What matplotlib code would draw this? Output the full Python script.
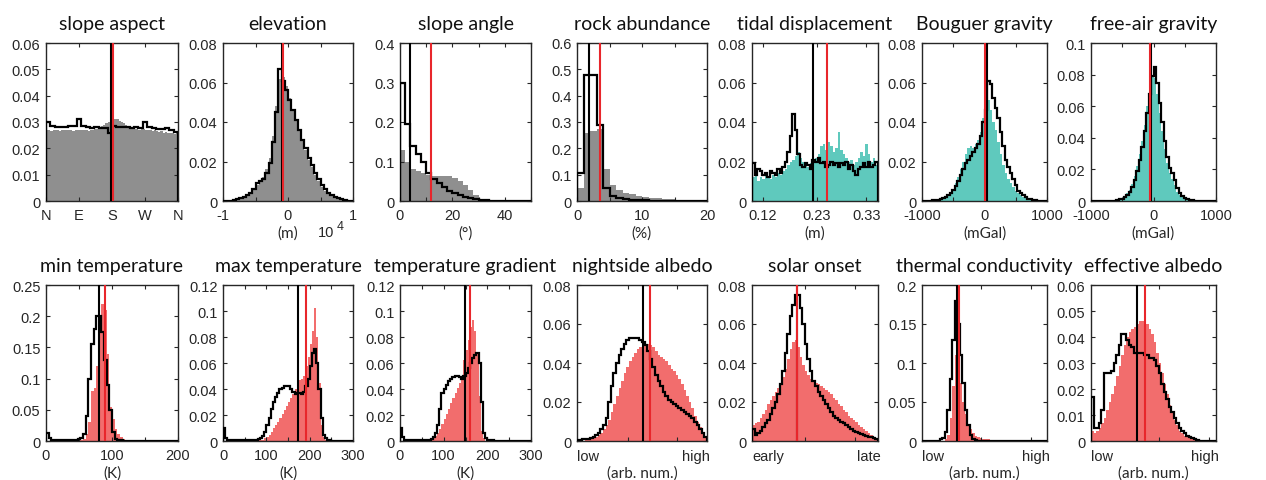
import numpy as np
import matplotlib
matplotlib.use("Agg")
import matplotlib.pyplot as plt

# ---- data ----
GRAY = "#8f8f8f"
TEAL = "#5fc9bd"
REDF = "#f26d6d"
REDL = "#e8262b"

# slope aspect (deg)
aspect_fill_edges = np.linspace(0, 360, 61)
aspect_fill = [0.027, 0.0268, 0.0265, 0.0268, 0.027, 0.0268, 0.0267, 0.027, 0.0268, 0.027,
               0.0268, 0.027, 0.0266, 0.0268, 0.027, 0.0268, 0.0269, 0.027, 0.0268, 0.0267,
               0.027, 0.0268, 0.0272, 0.0275, 0.028, 0.0285, 0.029, 0.0295, 0.030, 0.031,
               0.0315, 0.0312, 0.031, 0.0305, 0.030, 0.0295, 0.029, 0.0285, 0.028, 0.0278,
               0.0275, 0.0272, 0.027, 0.0275, 0.0272, 0.027, 0.0268, 0.027, 0.0265, 0.0268,
               0.0265, 0.0262, 0.0265, 0.026, 0.0262, 0.026, 0.0258, 0.026, 0.0255, 0.0258]
aspect_step_edges = np.linspace(0, 360, 31)
aspect_step = [0.0299, 0.0285, 0.028, 0.0282, 0.028, 0.0283, 0.0285, 0.031, 0.0285, 0.028,
               0.0278, 0.028, 0.0278, 0.0278, 0.0258, 0.0285, 0.028, 0.028, 0.028, 0.0278,
               0.028, 0.0278, 0.030, 0.028, 0.0278, 0.0275, 0.0275, 0.0278, 0.027, 0.0262]

# elevation (x 1e4 m)
elev_edges = np.linspace(-1, 1, 41)
elev_fill = [0, 0, 0.0002, 0.0004, 0.0008, 0.0012, 0.002, 0.003, 0.004, 0.006,
             0.008, 0.010, 0.012, 0.016, 0.022, 0.033, 0.048, 0.062, 0.063, 0.058,
             0.052, 0.046, 0.041, 0.036, 0.031, 0.026, 0.021, 0.017, 0.013, 0.010,
             0.007, 0.005, 0.0035, 0.0025, 0.0018, 0.0012, 0.0008, 0.0004, 0.0002, 0]
elev_step = [0, 0, 0.0002, 0.0005, 0.001, 0.0015, 0.002, 0.003, 0.004, 0.006,
             0.009, 0.010, 0.011, 0.014, 0.019, 0.030, 0.045, 0.067, 0.061, 0.056,
             0.051, 0.046, 0.041, 0.036, 0.031, 0.027, 0.022, 0.018, 0.014, 0.011,
             0.008, 0.006, 0.004, 0.003, 0.002, 0.0015, 0.001, 0.0005, 0.0002, 0]

# slope angle (deg)
angle_edges = np.linspace(0, 50, 26)
angle_fill = [0.13, 0.098, 0.08, 0.075, 0.07, 0.066, 0.063, 0.064, 0.064, 0.063,
              0.058, 0.05, 0.04, 0.028, 0.016, 0.006, 0.002, 0.0005, 0, 0,
              0, 0, 0, 0, 0]
angle_step = [0.30, 0.195, 0.14, 0.12, 0.10, 0.07, 0.055, 0.045, 0.035, 0.026,
              0.02, 0.014, 0.01, 0.007, 0.004, 0.003, 0.002, 0.001, 0.0005, 0.0003,
              0, 0, 0, 0, 0]

# rock abundance (%)
rock_fill_edges = np.linspace(0, 20, 21)
rock_fill = [0.05, 0.26, 0.265, 0.275, 0.12, 0.06, 0.04, 0.03, 0.025, 0.02,
             0.016, 0.013, 0.01, 0.008, 0.006, 0.005, 0.004, 0.003, 0.002, 0.001]
rock_step_edges = [0, 1, 3, 4, 5, 6, 7, 8, 9, 10, 11, 12, 13, 14, 15, 16, 17, 18, 19, 20]
rock_step = [0.105, 0.477, 0.29, 0.05, 0.02, 0.01, 0.006, 0.004, 0.003, 0.002,
             0.0015, 0.001, 0.001, 0.0005, 0.0005, 0.0003, 0.0002, 0.0001, 0]

# tidal displacement (m)
tidal_edges = np.linspace(0.0975, 0.354, 51)
tidal_fill = [0.012, 0.014, 0.010, 0.012, 0.011, 0.013, 0.012, 0.011, 0.013, 0.012,
              0.014, 0.013, 0.015, 0.016, 0.018, 0.020, 0.021, 0.023, 0.025, 0.022,
              0.020, 0.018, 0.017, 0.019, 0.020, 0.022, 0.024, 0.028, 0.029, 0.026,
              0.030, 0.028, 0.025, 0.027, 0.035, 0.026, 0.024, 0.022, 0.020, 0.021,
              0.018, 0.020, 0.022, 0.025, 0.023, 0.029, 0.024, 0.020, 0.022, 0.018]
tidal_step = [0.019, 0.013, 0.016, 0.015, 0.013, 0.014, 0.012, 0.015, 0.014, 0.013,
              0.016, 0.014, 0.017, 0.020, 0.025, 0.033, 0.044, 0.036, 0.024, 0.018,
              0.017, 0.019, 0.018, 0.016, 0.021, 0.020, 0.022, 0.019, 0.020, 0.017,
              0.018, 0.020, 0.018, 0.019, 0.017, 0.019, 0.018, 0.020, 0.016, 0.018,
              0.015, 0.013, 0.016, 0.017, 0.019, 0.017, 0.020, 0.017, 0.018, 0.020]

# Bouguer gravity (mGal)
boug_edges = np.linspace(-1000, 1000, 51)
boug_fill = [0, 0, 0, 0.0002, 0.0003, 0.0005, 0.0008, 0.001, 0.0015, 0.002,
             0.003, 0.0045, 0.006, 0.009, 0.012, 0.016, 0.020, 0.024, 0.027, 0.028,
             0.027, 0.029, 0.031, 0.035, 0.042, 0.050, 0.051, 0.046, 0.040, 0.036,
             0.030, 0.024, 0.018, 0.014, 0.011, 0.009, 0.007, 0.005, 0.004, 0.003,
             0.002, 0.0015, 0.001, 0.0007, 0.0004, 0.0002, 0.0001, 0, 0, 0]
boug_step = [0, 0, 0, 0.0002, 0.0003, 0.0005, 0.0007, 0.001, 0.0013, 0.002,
             0.0028, 0.004, 0.0055, 0.0075, 0.010, 0.013, 0.016, 0.019, 0.021, 0.023,
             0.025, 0.027, 0.029, 0.033, 0.040, 0.046, 0.061, 0.059, 0.052, 0.047,
             0.042, 0.035, 0.028, 0.021, 0.017, 0.014, 0.011, 0.008, 0.005, 0.004,
             0.003, 0.002, 0.0012, 0.0008, 0.0005, 0.0003, 0.0002, 0.0001, 0, 0]

# free-air gravity (mGal)
fair_edges = np.linspace(-1000, 1000, 51)
fair_fill = [0, 0, 0, 0, 0, 0, 0, 0.0001, 0.0002, 0.0004,
             0.0006, 0.0012, 0.002, 0.003, 0.005, 0.007, 0.011, 0.016, 0.022, 0.030,
             0.038, 0.048, 0.060, 0.071, 0.080, 0.078, 0.068, 0.056, 0.044, 0.033,
             0.024, 0.018, 0.014, 0.010, 0.006, 0.004, 0.0025, 0.0015, 0.001, 0.0005,
             0.0003, 0.0002, 0.0001, 0, 0, 0, 0, 0, 0, 0]
fair_step = [0, 0, 0, 0, 0, 0, 0, 0.0001, 0.0002, 0.0003,
             0.0005, 0.001, 0.0015, 0.0025, 0.004, 0.006, 0.009, 0.013, 0.019, 0.026,
             0.034, 0.044, 0.056, 0.068, 0.079, 0.085, 0.075, 0.062, 0.050, 0.038,
             0.028, 0.021, 0.018, 0.013, 0.008, 0.005, 0.003, 0.002, 0.001, 0.0006,
             0.0004, 0.0002, 0.0001, 0, 0, 0, 0, 0, 0, 0]

# min temperature (K)
tmin_edges = np.linspace(0, 200, 51)
tmin_fill = [0, 0, 0, 0, 0, 0, 0, 0, 0, 0,
             0, 0, 0, 0.001, 0.004, 0.012, 0.030, 0.080, 0.085, 0.120,
             0.200, 0.220, 0.210, 0.140, 0.055, 0.035, 0.020, 0.012, 0.007, 0.004,
             0.002, 0.001, 0, 0, 0, 0, 0, 0, 0, 0,
             0, 0, 0, 0, 0, 0, 0, 0, 0, 0]
tmin_step = [0.013, 0.005, 0.002, 0.0015, 0.001, 0.001, 0.001, 0.001, 0.001, 0.001,
             0.0015, 0.002, 0.003, 0.005, 0.012, 0.040, 0.100, 0.155, 0.180, 0.200,
             0.200, 0.175, 0.130, 0.090, 0.050, 0.015, 0.004, 0.002, 0.001, 0.0005,
             0, 0, 0, 0, 0, 0, 0, 0, 0, 0,
             0, 0, 0, 0, 0, 0, 0, 0, 0, 0]

# max temperature (K)
tmax_edges = np.linspace(0, 300, 61)
tmax_fill = [0, 0, 0, 0, 0, 0, 0, 0, 0, 0,
             0, 0, 0, 0, 0, 0, 0.0005, 0.001, 0.001, 0.002,
             0.003, 0.005, 0.007, 0.010, 0.012, 0.015, 0.018, 0.021, 0.024, 0.027,
             0.030, 0.033, 0.036, 0.040, 0.045, 0.047, 0.048, 0.050, 0.058, 0.065,
             0.075, 0.085, 0.102, 0.080, 0.045, 0.012, 0.003, 0.001, 0, 0,
             0, 0, 0, 0, 0, 0, 0, 0, 0, 0]
tmax_step = [0.010, 0.002, 0.001, 0.001, 0.001, 0.0008, 0.0008, 0.0008, 0.0008, 0.0008,
             0.0008, 0.0008, 0.0008, 0.001, 0.001, 0.001, 0.0015, 0.002, 0.004, 0.007,
             0.012, 0.018, 0.025, 0.030, 0.034, 0.037, 0.040, 0.041, 0.042, 0.042,
             0.042, 0.040, 0.038, 0.036, 0.037, 0.037, 0.036, 0.038, 0.042, 0.048,
             0.058, 0.068, 0.071, 0.060, 0.040, 0.018, 0.005, 0.002, 0.001, 0.0005,
             0, 0, 0, 0, 0, 0, 0, 0, 0, 0]

# temperature gradient (K)
tgrad_edges = np.linspace(0, 300, 61)
tgrad_fill = [0, 0, 0, 0, 0, 0, 0, 0, 0, 0,
              0, 0, 0, 0, 0.001, 0.002, 0.004, 0.006, 0.009, 0.013,
              0.017, 0.021, 0.025, 0.029, 0.033, 0.037, 0.041, 0.045, 0.050, 0.062,
              0.070, 0.078, 0.088, 0.093, 0.085, 0.068, 0.035, 0.008, 0.002, 0,
              0, 0, 0, 0, 0, 0, 0, 0, 0, 0,
              0, 0, 0, 0, 0, 0, 0, 0, 0, 0]
tgrad_step = [0.010, 0.003, 0.001, 0.001, 0.001, 0.001, 0.001, 0.001, 0.001, 0.001,
              0.001, 0.001, 0.001, 0.001, 0.0015, 0.003, 0.006, 0.012, 0.025, 0.037,
              0.040, 0.043, 0.046, 0.048, 0.049, 0.050, 0.050, 0.049, 0.048, 0.050,
              0.052, 0.056, 0.060, 0.064, 0.066, 0.068, 0.060, 0.030, 0.006, 0.002,
              0.001, 0.0005, 0.0005, 0.0003, 0, 0, 0, 0, 0, 0,
              0, 0, 0, 0, 0, 0, 0, 0, 0, 0]

# nightside albedo (arb.)
night_edges = np.linspace(0, 1, 51)
night_fill = [0, 0, 0.0002, 0.0004, 0.0006, 0.001, 0.0015, 0.002, 0.003, 0.004,
              0.006, 0.008, 0.011, 0.015, 0.019, 0.023, 0.027, 0.031, 0.035, 0.038,
              0.041, 0.043, 0.045, 0.047, 0.048, 0.049, 0.050, 0.050, 0.049, 0.048,
              0.046, 0.044, 0.043, 0.042, 0.041, 0.039, 0.037, 0.036, 0.034, 0.032,
              0.029, 0.026, 0.023, 0.020, 0.017, 0.013, 0.010, 0.007, 0.004, 0.002]
night_step = [0.0005, 0.0006, 0.0008, 0.001, 0.0012, 0.0015, 0.002, 0.003, 0.004, 0.006,
              0.008, 0.012, 0.020, 0.028, 0.035, 0.040, 0.044, 0.047, 0.050, 0.052,
              0.053, 0.053, 0.053, 0.053, 0.052, 0.051, 0.049, 0.046, 0.042, 0.038,
              0.034, 0.031, 0.028, 0.025, 0.023, 0.021, 0.020, 0.019, 0.018, 0.017,
              0.016, 0.015, 0.014, 0.013, 0.012, 0.010, 0.008, 0.006, 0.004, 0.002]

# solar onset (arb.)
solar_edges = np.linspace(0, 1, 51)
solar_fill = [0.008, 0.009, 0.010, 0.012, 0.014, 0.016, 0.019, 0.021, 0.023, 0.025,
              0.027, 0.030, 0.033, 0.037, 0.042, 0.047, 0.051, 0.052, 0.048, 0.043,
              0.039, 0.036, 0.034, 0.032, 0.031, 0.030, 0.029, 0.028, 0.027, 0.026,
              0.025, 0.024, 0.022, 0.021, 0.019, 0.018, 0.016, 0.015, 0.013, 0.012,
              0.011, 0.010, 0.008, 0.007, 0.006, 0.005, 0.004, 0.003, 0.002, 0.001]
solar_step = [0.006, 0.003, 0.004, 0.005, 0.007, 0.009, 0.011, 0.014, 0.017, 0.020,
              0.024, 0.029, 0.036, 0.045, 0.055, 0.064, 0.070, 0.075, 0.075, 0.068,
              0.060, 0.050, 0.042, 0.036, 0.031, 0.028, 0.025, 0.023, 0.021, 0.019,
              0.017, 0.015, 0.013, 0.012, 0.011, 0.010, 0.009, 0.008, 0.007, 0.006,
              0.005, 0.0045, 0.004, 0.0035, 0.003, 0.0025, 0.002, 0.002, 0.0015, 0.001]

# thermal conductivity (arb.)
therm_edges = np.linspace(0, 1, 51)
therm_fill = [0, 0, 0, 0, 0, 0, 0, 0, 0, 0.002,
              0.008, 0.030, 0.070, 0.110, 0.110, 0.075, 0.050, 0.035, 0.022, 0.015,
              0.010, 0.007, 0.005, 0.004, 0.003, 0.0025, 0.002, 0.0015, 0.0012, 0.001,
              0.0008, 0.0006, 0.0005, 0.0003, 0.0002, 0, 0, 0, 0, 0,
              0, 0, 0, 0, 0, 0, 0, 0, 0, 0]
therm_step = [0, 0, 0, 0, 0, 0, 0.0005, 0.002, 0.004, 0.012,
              0.040, 0.080, 0.130, 0.180, 0.150, 0.110, 0.075, 0.040, 0.020, 0.008,
              0.003, 0.001, 0, 0, 0, 0, 0, 0, 0, 0,
              0, 0, 0, 0, 0, 0, 0, 0, 0, 0,
              0, 0, 0, 0, 0, 0, 0, 0, 0, 0]

# effective albedo (arb.)
eff_edges = np.linspace(0, 1, 51)
eff_fill = [0.004, 0.003, 0.004, 0.005, 0.007, 0.009, 0.012, 0.015, 0.018, 0.021,
            0.025, 0.029, 0.033, 0.037, 0.040, 0.042, 0.043, 0.044, 0.045, 0.046,
            0.046, 0.046, 0.045, 0.043, 0.041, 0.038, 0.034, 0.030, 0.026, 0.022,
            0.018, 0.014, 0.011, 0.008, 0.006, 0.004, 0.003, 0.002, 0.0015, 0.001,
            0.0008, 0.0005, 0.0003, 0.0002, 0.0001, 0, 0, 0, 0, 0]
eff_step = [0.017, 0.005, 0.005, 0.007, 0.012, 0.026, 0.026, 0.026, 0.027, 0.030,
            0.033, 0.037, 0.041, 0.041, 0.039, 0.037, 0.036, 0.034, 0.034, 0.034,
            0.034, 0.033, 0.033, 0.032, 0.032, 0.031, 0.029, 0.026, 0.022, 0.019,
            0.016, 0.013, 0.011, 0.009, 0.007, 0.005, 0.004, 0.003, 0.002, 0.0015,
            0.001, 0.0006, 0.0003, 0, 0, 0, 0, 0, 0, 0]

# medians (black = one set, red = other)
med_black = [178, -0.09, 4.0, 1.9, 0.221, 45, -35,
             81, 173, 149, 0.504, 0.36, 0.276, 0.365]
med_red = [182, -0.08, 11.8, 3.6, 0.2495, 12, -50,
           89, 191, 160, 0.56, 0.357, 0.297, 0.43]

titles = ["slope aspect", "elevation", "slope angle", "rock abundance",
          "tidal displacement", "Bouguer gravity", "free-air gravity",
          "min temperature", "max temperature", "temperature gradient",
          "nightside albedo", "solar onset", "thermal conductivity", "effective albedo"]

panels = [
    dict(fe=aspect_fill_edges, f=aspect_fill, se=aspect_step_edges, s=aspect_step, c=GRAY,
         xlim=(0, 360), ylim=0.06, yt=[0, .01, .02, .03, .04, .05, .06],
         xt=[0, 90, 180, 270, 360], xtl=["N", "E", "S", "W", "N"], xl=None),
    dict(fe=elev_edges, f=elev_fill, se=elev_edges, s=elev_step, c=GRAY,
         xlim=(-1, 1), ylim=0.08, yt=[0, .02, .04, .06, .08],
         xt=[-1, -0.5, 0, 0.5, 1], xtl=["-1", "", "0", "", "1"], xl="(m)"),
    dict(fe=angle_edges, f=angle_fill, se=angle_edges, s=angle_step, c=GRAY,
         xlim=(0, 50), ylim=0.4, yt=[0, .1, .2, .3, .4],
         xt=[0, 10, 20, 30, 40, 50], xtl=["0", "", "20", "", "40", ""], xl="(°)"),
    dict(fe=rock_fill_edges, f=rock_fill, se=rock_step_edges, s=rock_step, c=GRAY,
         xlim=(0, 20), ylim=0.6, yt=[0, .1, .2, .3, .4, .5, .6],
         xt=[0, 5, 10, 15, 20], xtl=["0", "", "10", "", "20"], xl="(%)"),
    dict(fe=tidal_edges, f=tidal_fill, se=tidal_edges, s=tidal_step, c=TEAL,
         xlim=(0.0975, 0.354), ylim=0.08, yt=[0, .02, .04, .06, .08],
         xt=[0.12, 0.23, 0.33], xtl=["0.12", "0.23", "0.33"], xl="(m)"),
    dict(fe=boug_edges, f=boug_fill, se=boug_edges, s=boug_step, c=TEAL,
         xlim=(-1000, 1000), ylim=0.08, yt=[0, .02, .04, .06, .08],
         xt=[-1000, -500, 0, 500, 1000], xtl=["-1000", "", "0", "", "1000"], xl="(mGal)"),
    dict(fe=fair_edges, f=fair_fill, se=fair_edges, s=fair_step, c=TEAL,
         xlim=(-1000, 1000), ylim=0.1, yt=[0, .02, .04, .06, .08, .1],
         xt=[-1000, -500, 0, 500, 1000], xtl=["-1000", "", "0", "", "1000"], xl="(mGal)"),
    dict(fe=tmin_edges, f=tmin_fill, se=tmin_edges, s=tmin_step, c=REDF,
         xlim=(0, 200), ylim=0.25, yt=[0, .05, .1, .15, .2, .25],
         xt=[0, 50, 100, 150, 200], xtl=["0", "", "100", "", "200"], xl="(K)"),
    dict(fe=tmax_edges, f=tmax_fill, se=tmax_edges, s=tmax_step, c=REDF,
         xlim=(0, 300), ylim=0.12, yt=[0, .02, .04, .06, .08, .1, .12],
         xt=[0, 50, 100, 150, 200, 250, 300], xtl=["0", "", "100", "", "200", "", "300"], xl="(K)"),
    dict(fe=tgrad_edges, f=tgrad_fill, se=tgrad_edges, s=tgrad_step, c=REDF,
         xlim=(0, 300), ylim=0.12, yt=[0, .02, .04, .06, .08, .1, .12],
         xt=[0, 50, 100, 150, 200, 250, 300], xtl=["0", "", "100", "", "200", "", "300"], xl="(K)"),
    dict(fe=night_edges, f=night_fill, se=night_edges, s=night_step, c=REDF,
         xlim=(0, 1), ylim=0.08, yt=[0, .02, .04, .06, .08],
         xt=[0.39, 0.77], xtl=None, ends=("low", "high"), xl="(arb. num.)"),
    dict(fe=solar_edges, f=solar_fill, se=solar_edges, s=solar_step, c=REDF,
         xlim=(0, 1), ylim=0.08, yt=[0, .02, .04, .06, .08],
         xt=[0.42, 0.82], xtl=None, ends=("early", "late"), xl=None),
    dict(fe=therm_edges, f=therm_fill, se=therm_edges, s=therm_step, c=REDF,
         xlim=(0, 1), ylim=0.2, yt=[0, .05, .1, .15, .2],
         xt=[0.47, 0.87], xtl=None, ends=("low", "high"), xl="(arb. num.)"),
    dict(fe=eff_edges, f=eff_fill, se=eff_edges, s=eff_step, c=REDF,
         xlim=(0, 1), ylim=0.06, yt=[0, .01, .02, .03, .04, .05, .06],
         xt=[0.54, 0.94], xtl=None, ends=("low", "high"), xl="(arb. num.)"),
]

# ---- layout in pixels ----
W, H = 1266, 481
lefts = [46, 223, 400, 577, 752, 922, 1091]
widths = [132, 130, 131, 130, 126, 125, 125]
row_top = [44, 286]
row_h = [158, 156]

TICKFONT = "Liberation Sans"
TEXTFONT = "Lato"
INK = "#262626"
TICKSIZE = 10.5

fig = plt.figure(figsize=(W / 100, H / 100), dpi=100)

for k, p in enumerate(panels):
    r, c = divmod(k, 7)
    ax = fig.add_axes([lefts[c] / W, 1 - (row_top[r] + row_h[r]) / H, widths[c] / W, row_h[r] / H])

    fe = np.asarray(p["fe"], float)
    ax.bar(fe[:-1], p["f"], width=np.diff(fe), align="edge", color=p["c"],
           edgecolor="none", linewidth=0, zorder=1)
    ax.stairs(p["s"], p["se"], baseline=0, color="black", linewidth=1.6, zorder=3)
    ax.axvline(med_black[k], color="black", linewidth=1.5, zorder=4)
    ax.axvline(med_red[k], color=REDL, linewidth=1.5, zorder=5)

    ax.set_xlim(*p["xlim"])
    ax.set_ylim(0, p["ylim"])
    ax.set_yticks(p["yt"])
    ax.set_yticklabels(["%g" % v for v in p["yt"]])
    ax.set_xticks(p["xt"])
    if p["xtl"] is not None:
        ax.set_xticklabels(p["xtl"])
    else:
        ax.set_xticklabels([])
        lo, hi = p["ends"]
        ax.text(0.0, -0.095, lo, transform=ax.transAxes, ha="left", va="center",
                fontsize=TICKSIZE, family=TICKFONT, color=INK)
        ax.text(1.02, -0.095, hi, transform=ax.transAxes, ha="right", va="center",
                fontsize=TICKSIZE, family=TICKFONT, color=INK)

    ax.tick_params(direction="in", top=True, right=True, length=3, width=0.8,
                   colors=INK, labelsize=TICKSIZE, pad=4)
    ax.tick_params(axis="x", pad=5)
    for lab in ax.get_xticklabels() + ax.get_yticklabels():
        lab.set_family(TICKFONT)
    for sp in ax.spines.values():
        sp.set_color(INK)
        sp.set_linewidth(1.0)

    ax.set_title(titles[k], fontsize=14, family=TEXTFONT, color="#111111", pad=10)
    if p["xl"]:
        ax.text(0.5, -0.2, p["xl"], transform=ax.transAxes, ha="center", va="center",
                fontsize=11, family=TEXTFONT, color=INK)

# exponent note under elevation axis
fig.text(318 / W, 1 - 233 / H, "10", fontsize=TICKSIZE, family=TICKFONT, color=INK, va="center")
fig.text(337 / W, 1 - 227 / H, "4", fontsize=9, family=TICKFONT, color=INK, va="center")

fig.savefig("out.png", dpi=100, facecolor="white")
